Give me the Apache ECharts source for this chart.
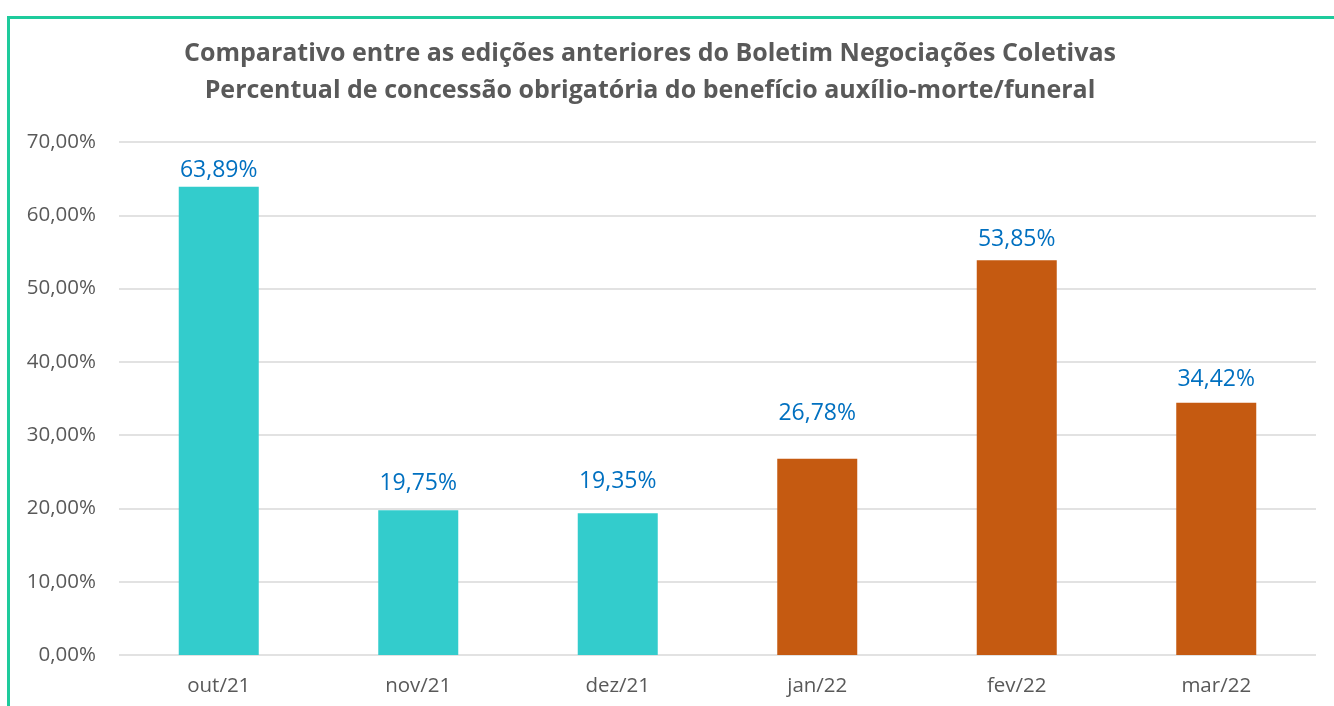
<!DOCTYPE html>
<html>
<head>
<meta charset="utf-8">
<script src="https://cdn.jsdelivr.net/npm/echarts@6/dist/echarts.min.js"></script>
<style>
  html, body { margin: 0; padding: 0; background: #fff; }
  #frame {
    position: absolute; left: 7px; top: 16px; right: 0; bottom: 0;
    border-top: 3px solid #1ECB9C; border-left: 3px solid #1ECB9C;
  }
  #chart { position: absolute; left: 0; top: 0; width: 1334px; height: 706px; }
</style>
</head>
<body>
<div id="frame"></div>
<div id="chart"></div>
<script>
// edições do boletim
const categories = ['out/21', 'nov/21', 'dez/21', 'jan/22', 'fev/22', 'mar/22']
const values = [63.89, 19.75, 19.35, 26.78, 53.85, 34.42]
// cores por edição (primeiras três em turquesa, últimas em laranja)
const barColors = ['#33CCCC', '#33CCCC', '#33CCCC', '#C55A11', '#C55A11', '#C55A11']
// distância dos rótulos acima da barra (no original foram movidos à mão)
const labelGap = [5, 15, 20, 34, 9, 12]

const fmt = (v, d) => v.toFixed(d).replace('.', ',') + '%'

const chart = echarts.init(document.getElementById('chart'))
chart.setOption({
  backgroundColor: 'transparent',
  animation: false,
  title: {
    text: 'Comparativo entre as edições anteriores do Boletim Negociações Coletivas\nPercentual de concessão obrigatória do benefício auxílio-morte/funeral',
    left: 645,
    top: 30,
    textAlign: 'center',
    textStyle: {
      color: '#595959',
      fontSize: 25,
      fontWeight: 'bold',
      fontFamily: 'Open Sans',
      lineHeight: 37
    }
  },
  grid: { left: 119, right: 18, top: 142, bottom: 51, containLabel: false },
  xAxis: {
    type: 'category',
    data: categories,
    axisLine: { show: false },
    axisTick: { show: false },
    axisLabel: { color: '#595959', fontSize: 20.5, fontFamily: 'Open Sans', margin: 21 }
  },
  yAxis: {
    type: 'value',
    min: 0,
    max: 70,
    interval: 10,
    axisLine: { show: false },
    axisTick: { show: false },
    splitLine: { lineStyle: { color: '#D9D9D9', width: 1.5 } },
    axisLabel: {
      color: '#595959', fontSize: 20.5, fontFamily: 'Open Sans', margin: 23,
      formatter: v => fmt(v, 2)
    }
  },
  series: [{
    type: 'bar',
    data: values.map((v, i) => ({
      value: v,
      itemStyle: { color: barColors[i] },
      label: { distance: labelGap[i] }
    })),
    barWidth: 80,
    label: {
      show: true,
      position: 'top',
      color: '#0070C0',
      fontSize: 23,
      fontFamily: 'Open Sans',
      formatter: p => fmt(p.value, 2)
    }
  }]
})
</script>
</body>
</html>
